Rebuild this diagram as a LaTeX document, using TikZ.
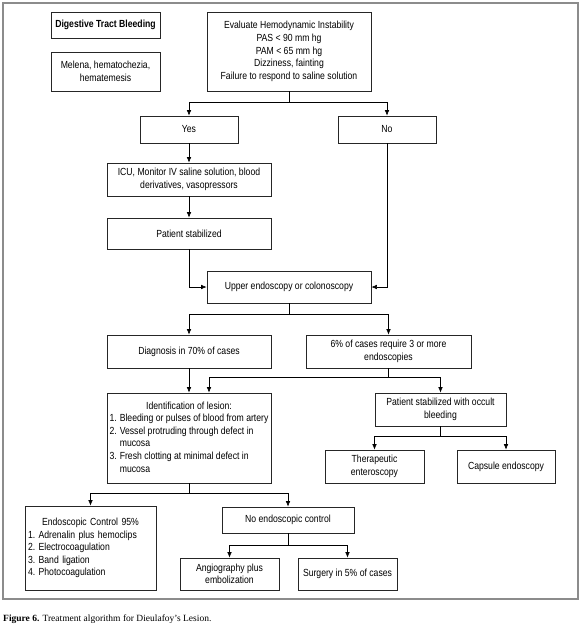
\documentclass[tikz,border=0pt]{standalone}
\usepackage{fontspec}
\setmainfont{Liberation Sans}[FakeStretch=0.84]
\newfontfamily\capfont{Liberation Serif}
\usetikzlibrary{arrows.meta,calc}
\tikzset{
  box/.style={draw=black!85, line width=0.7pt, rectangle, inner sep=0pt, align=center,
     font=\fontsize{10.3}{12.6}\selectfont},
  conn/.style={draw=black, line width=0.6pt},
  arr/.style={conn, -{Latex[length=5.5pt,width=4.5pt]}},
}
\begin{document}
\begin{tikzpicture}[x=1pt,y=-1pt]
\useasboundingbox (0,0) rectangle (580,630);
\draw[draw=black!45, line width=1.5pt] (3,3) rectangle (578,599);

\node[box, minimum width=109pt, minimum height=26pt] (dtb) at (105.5,25) {\bfseries Digestive Tract Bleeding};
\node[box, minimum width=109pt, minimum height=39pt] (mel) at (105.5,71.5) {Melena, hematochezia,\\hematemesis};
\node[box, minimum width=164pt, minimum height=79pt] (eval) at (289,51.5) {Evaluate Hemodynamic Instability\\PAS < 90 mm hg\\PAM < 65 mm hg\\Dizziness, fainting\\Failure to respond to saline solution};
\node[box, minimum width=98pt, minimum height=27pt] (yes) at (189,129.5) {Yes};
\node[box, minimum width=98pt, minimum height=27pt] (no) at (387,129.5) {No};
\node[box, minimum width=164pt, minimum height=33pt] (icu) at (189,179.5) {ICU, Monitor IV saline solution, blood\\derivatives, vasopressors};
\node[box, minimum width=164pt, minimum height=31pt] (pst) at (189,233.5) {Patient stabilized};
\node[box, minimum width=164pt, minimum height=32pt] (upper) at (289,287) {Upper endoscopy or colonoscopy};
\node[box, minimum width=164pt, minimum height=33pt] (diag) at (189,351.5) {Diagnosis in 70\% of cases};
\node[box, minimum width=165pt, minimum height=33pt] (six) at (388.5,351.5) {6\% of cases require 3 or more\\endoscopies};
\node[box, minimum width=164pt, minimum height=90pt] (ident) at (189,438) {\begin{tabular}{@{}r@{\hspace{3pt}}l@{}}\multicolumn{2}{@{}c@{}}{Identification of lesion:}\\1.&Bleeding or pulses of blood from artery\\2.&Vessel protruding through defect in\\&mucosa\\3.&Fresh clotting at minimal defect in\\&mucosa\end{tabular}};
\node[box, minimum width=131pt, minimum height=33pt] (occ) at (440.5,409.5) {Patient stabilized with occult\\bleeding};
\node[box, minimum width=99pt, minimum height=33pt] (ther) at (374.5,466.5) {Therapeutic\\enteroscopy};
\node[box, minimum width=98pt, minimum height=33pt] (caps) at (506,466.5) {Capsule endoscopy};
\node[box, minimum width=131pt, minimum height=84pt, text width=125pt, align=left] (endo) at (90.5,548) {\makebox[125pt][c]{Endoscopic Control 95\%}\\1.~Adrenalin plus hemoclips\\2.~Electrocoagulation\\3.~Band ligation\\4.~Photocoagulation};
\node[box, minimum width=132pt, minimum height=26pt] (noendo) at (288,520) {No endoscopic control};
\node[box, minimum width=99pt, minimum height=32pt] (angio) at (229.5,574) {Angiography plus\\embolization};
\node[box, minimum width=99pt, minimum height=32pt] (surg) at (347.5,574) {Surgery in 5\% of cases};

\node[anchor=base west, inner sep=0pt, font=\capfont\fontsize{9.5}{11}\selectfont] (cap) at (3,621) {\textbf{Figure 6.} Treatment algorithm for Dieulafoy’s Lesion.};

% connectors
\coordinate (j1) at (289,102);
\draw[conn] (eval.south) -- (j1);
\draw[arr] (j1) -| (yes.north);
\draw[arr] (j1) -| (no.north);
\draw[arr] (yes.south) -- (icu.north);
\draw[arr] (icu.south) -- (pst.north);
\draw[arr] (pst.south) |- (upper.west);
\draw[arr] (no.south) |- (upper.east);

\coordinate (j2) at (289,314);
\draw[conn] (upper.south) -- (j2);
\draw[arr] (j2) -| (diag.north);
\draw[arr] (j2) -| (six.north);
\draw[arr] (diag.south) -- (ident.north);

\coordinate (j3) at (388.5,377);
\coordinate (identin) at ($(ident.north)+(20,0)$);
\draw[conn] (six.south) -- (j3);
\draw[arr] (j3) -| (identin);
\draw[arr] (j3) -| (occ.north);

\coordinate (j4) at (440.5,436);
\draw[conn] (occ.south) -- (j4);
\draw[arr] (j4) -| (ther.north);
\draw[arr] (j4) -| (caps.north);

\coordinate (j5) at (189,493);
\draw[conn] (ident.south) -- (j5);
\draw[arr] (j5) -| (endo.north);
\draw[arr] (j5) -| (noendo.north);

\coordinate (j6) at (288,545);
\draw[conn] (noendo.south) -- (j6);
\draw[arr] (j6) -| (angio.north);
\draw[arr] (j6) -| (surg.north);
\end{tikzpicture}
\end{document}
